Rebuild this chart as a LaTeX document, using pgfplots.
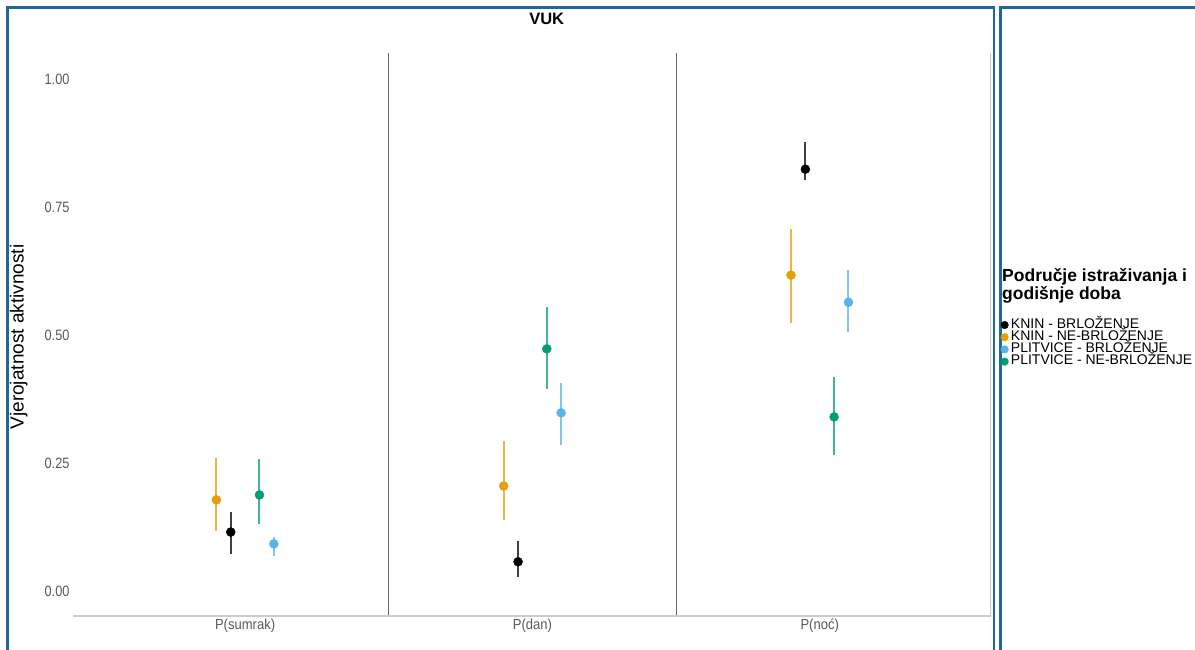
\documentclass[border=0pt]{standalone}
\usepackage{pgfplots}
\pgfplotsset{compat=1.18}
\usepackage{fontspec}
\setmainfont{Liberation Sans}
\definecolor{cblack}{HTML}{000000}
\definecolor{corange}{HTML}{E69F00}
\definecolor{cblue}{HTML}{56B4E9}
\definecolor{cgreen}{HTML}{009E73}
\definecolor{frameblue}{HTML}{1F6A94}
\begin{document}
\begin{tikzpicture}
\useasboundingbox (0pt,0pt) rectangle (1195pt,-650pt);
\fill[white] (0pt,0pt) rectangle (1195pt,-650pt);
\draw[frameblue, line width=2.5pt] (7.5pt,-660pt) -- (7.5pt,-7.5pt) -- (994pt,-7.5pt) -- (994pt,-660pt);
\draw[frameblue, line width=2.5pt] (1000.5pt,-660pt) -- (1000.5pt,-7.5pt) -- (1200pt,-7.5pt);
\begin{axis}[
 at={(73pt,-616pt)}, anchor=south west,
 scale only axis, width=918pt, height=563pt,
 xmin=0.401, xmax=3.596, ymin=-0.049, ymax=1.051,
 axis line style={draw=none},
 major tick length=0pt,
 xtick={1,2,3},
 xticklabels={\scalebox{0.9}[1]{P(sumrak)},\scalebox{0.9}[1]{P(dan)},\scalebox{0.9}[1]{P(noć)}},
 ytick={0,0.25,0.5,0.75,1},
 yticklabel={\scalebox{0.85}[1]{\pgfmathprintnumber[fixed,fixed zerofill,precision=2]{\tick}}},
 /pgf/number format/assume math mode=true,
 tick label style={text=black!65},
 yticklabel style={font=\fontsize{15}{15}\selectfont},
 xticklabel style={font=\fontsize{14.5}{14.5}\selectfont, yshift=1pt},
 extra x ticks={1.5,2.5}, extra x tick labels={},
 extra x tick style={grid=major, major grid style={black!60, line width=1.1pt}},
 title={VUK},
 title style={at={(axis description cs:0.516,1.05)}, anchor=center, font=\fontsize{16.5}{16.5}\selectfont\bfseries},
 ylabel={Vjerojatnost aktivnosti},
 ylabel style={at={(axis description cs:-0.059,0.4956)}, anchor=center, font=\fontsize{19}{19}\selectfont},
 legend style={at={(axis description cs:1.0105,0.528)}, anchor=north west, draw=none, fill=none,
   font=\fontsize{14}{14}\selectfont, row sep=0pt, inner sep=0pt,
   nodes={inner sep=0.2pt, text height=9pt, text depth=2.8pt}},
 legend cell align=left,
 legend image code/.code={\draw[#1, mark size=3.8pt] plot coordinates {(3.6pt,0pt)}; \path (9.5pt,0pt);},
]
\addplot[only marks, mark=*, color=cblack, mark options={fill=cblack, draw=cblack}, mark size=4.5pt,
  error bars/.cd, y dir=both, y explicit, error mark=none,
  error bar style={line width=2pt, opacity=0.75}]
 coordinates {
 (0.95,0.115) += (0,0.039) -= (0,0.043)
 (1.95,0.057) += (0,0.041) -= (0,0.030)
 (2.95,0.824) += (0,0.053) -= (0,0.021)
 };
\addlegendentry{KNIN - BRLOŽENJE}
\addplot[only marks, mark=*, color=corange, mark options={fill=corange, draw=corange}, mark size=4.5pt,
  error bars/.cd, y dir=both, y explicit, error mark=none,
  error bar style={line width=2pt, opacity=0.75}]
 coordinates {
 (0.90,0.178) += (0,0.082) -= (0,0.061)
 (1.90,0.205) += (0,0.088) -= (0,0.066)
 (2.90,0.617) += (0,0.090) -= (0,0.094)
 };
\addlegendentry{KNIN - NE-BRLOŽENJE}
\addplot[only marks, mark=*, color=cblue, mark options={fill=cblue, draw=cblue}, mark size=4.5pt,
  error bars/.cd, y dir=both, y explicit, error mark=none,
  error bar style={line width=2pt, opacity=0.75}]
 coordinates {
 (1.10,0.092) += (0,0.013) -= (0,0.024)
 (2.10,0.348) += (0,0.058) -= (0,0.063)
 (3.10,0.564) += (0,0.063) -= (0,0.058)
 };
\addlegendentry{PLITVICE - BRLOŽENJE}
\addplot[only marks, mark=*, color=cgreen, mark options={fill=cgreen, draw=cgreen}, mark size=4.5pt,
  error bars/.cd, y dir=both, y explicit, error mark=none,
  error bar style={line width=2pt, opacity=0.75}]
 coordinates {
 (1.05,0.1875) += (0,0.0705) -= (0,0.0565)
 (2.05,0.473) += (0,0.082) -= (0,0.078)
 (3.05,0.340) += (0,0.078) -= (0,0.074)
 };
\addlegendentry{PLITVICE - NE-BRLOŽENJE}
\draw[black!20, line width=2pt] (rel axis cs:0,0) -- (rel axis cs:1,0) -- (rel axis cs:1,1);
\end{axis}
\node[anchor=north west, font=\fontsize{17.5}{18}\selectfont\bfseries, align=left, inner sep=0pt] at (1002pt,-268pt) {Područje istraživanja i\\godišnje doba};
\end{tikzpicture}
\end{document}
